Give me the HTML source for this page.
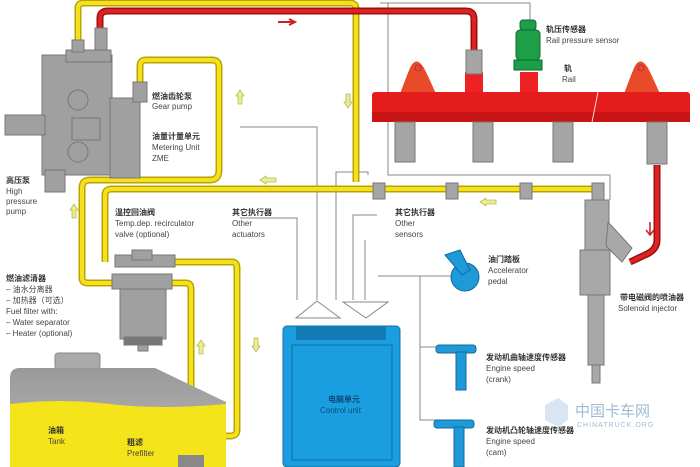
<!DOCTYPE html>
<html><head><meta charset="utf-8"><style>
body{margin:0;background:#fff;width:700px;height:467px;overflow:hidden}
svg{display:block}
text{font-family:"Liberation Sans","Noto Sans CJK SC",sans-serif;font-size:8px;fill:#444}
.cn{font-weight:bold;fill:#333}
</style></head><body>
<svg width="700" height="467" viewBox="0 0 700 467">
<defs>
<linearGradient id="tk" x1="0" y1="0" x2="0" y2="1"><stop offset="0" stop-color="#999"/><stop offset="1" stop-color="#bbb"/></linearGradient>
</defs>
<g stroke="#888" stroke-width="1" fill="none">
<path d="M240 127 H317 V300"/>
<path d="M336 300 V172 H368 V175"/>
<path d="M380 3 H530 V20"/>
<path d="M388 3 V175 H610 V200"/>
<path d="M353 300 V215 H377"/>
<path d="M365 300 V240"/>
<path d="M378 276 H470"/>
<path d="M420 276 V420 H440"/>
<path d="M420 347 H440"/>
<path d="M240 218 H297 V300"/>
</g>
<g fill="none" stroke="#b8a400" stroke-width="7" stroke-linejoin="round">
<path d="M78 42 V8 Q78 3 84 3 H350 Q356 3 356 9 V182"/>
<path d="M140 82 V66 Q140 60 146 60 H212 Q219 60 219 67 V170 Q219 180 210 180 H90 Q82 180 82 188 V278 Q82 283 88 283 H115"/>
<path d="M105 262 V195 Q105 189 112 189 H598"/>
<path d="M175 262 H232 Q237 262 237 268 V430 Q237 436 230 436 H226"/>
<path d="M170 283 H186 Q191 283 191 289 V458"/>
</g>
<g fill="none" stroke="#f5e020" stroke-width="4" stroke-linejoin="round">
<path d="M78 42 V8 Q78 3 84 3 H350 Q356 3 356 9 V182"/>
<path d="M140 82 V66 Q140 60 146 60 H212 Q219 60 219 67 V170 Q219 180 210 180 H90 Q82 180 82 188 V278 Q82 283 88 283 H115"/>
<path d="M105 262 V195 Q105 189 112 189 H598"/>
<path d="M175 262 H232 Q237 262 237 268 V430 Q237 436 230 436 H226"/>
<path d="M170 283 H186 Q191 283 191 289 V458"/>
</g>
<g fill="none" stroke="#9a1010" stroke-width="7" stroke-linejoin="round">
<path d="M100 30 V18 Q100 11 108 11 H466 Q474 11 474 19 V55"/>
<path d="M657 165 V240 Q657 250 645 255 L630 262"/>
</g>
<g fill="none" stroke="#dd2222" stroke-width="4">
<path d="M100 30 V18 Q100 11 108 11 H466 Q474 11 474 19 V55"/>
<path d="M657 165 V240 Q657 250 645 255 L630 262"/>
</g>
<path d="M278 22 H293 M289 19 L295 22 L289 25" stroke="#c22" stroke-width="2" fill="none"/>
<g fill="#a0a0a0" stroke="#777" stroke-width="1">
<rect x="42" y="55" width="70" height="120"/>
<rect x="66" y="50" width="45" height="12"/>
<rect x="110" y="98" width="30" height="80"/>
<rect x="133" y="82" width="14" height="20"/>
<rect x="5" y="115" width="40" height="20"/>
<rect x="72" y="40" width="12" height="12"/>
<rect x="95" y="28" width="12" height="22"/>
<rect x="45" y="170" width="20" height="22"/>
<circle cx="78" cy="100" r="10"/><circle cx="78" cy="152" r="10"/>
<rect x="72" y="118" width="28" height="22"/>
</g>
<path d="M400 94 Q405 80 410 68 Q416 55 424 68 Q430 80 436 94Z" fill="#e84a2a"/>
<path d="M624 94 Q629 80 634 68 Q640 55 648 68 Q654 80 660 94Z" fill="#e84a2a"/>
<circle cx="418" cy="68" r="3" fill="none" stroke="#b33"/>
<circle cx="641" cy="68" r="3" fill="none" stroke="#b33"/>
<rect x="465" y="72" width="18" height="22" fill="#e22"/>
<rect x="520" y="72" width="18" height="22" fill="#e22"/>
<rect x="372" y="92" width="318" height="30" rx="3" fill="#e41c1c"/>
<rect x="372" y="112" width="318" height="10" fill="#c81414"/>
<line x1="598" y1="92" x2="592" y2="122" stroke="#fff" stroke-width="0.8"/>
<g fill="#a5a5a5" stroke="#777">
<rect x="466" y="50" width="16" height="24"/>
<rect x="395" y="122" width="20" height="40"/><rect x="473" y="122" width="20" height="40"/>
<rect x="553" y="122" width="20" height="40"/><rect x="647" y="122" width="20" height="42"/>
<rect x="373" y="183" width="12" height="16"/><rect x="446" y="183" width="12" height="16"/>
<rect x="520" y="183" width="12" height="16"/><rect x="592" y="183" width="12" height="18"/>
</g>
<g fill="#1e9e48" stroke="#0c6a2a">
<rect x="520" y="20" width="16" height="10" rx="3"/>
<rect x="516" y="30" width="24" height="30" rx="4"/>
<rect x="514" y="60" width="28" height="10"/>
</g>
<g fill="#a8a8a8" stroke="#777">
<rect x="585" y="200" width="24" height="50"/>
<path d="M608 222 L632 248 L622 262 L606 246Z"/>
<rect x="580" y="250" width="30" height="45"/>
<rect x="588" y="295" width="16" height="70"/>
<rect x="592" y="365" width="8" height="18"/>
</g>
<g fill="#a0a0a0" stroke="#777">
<rect x="115" y="255" width="60" height="12"/>
<rect x="132" y="250" width="20" height="10"/>
<rect x="112" y="274" width="60" height="15"/>
<rect x="120" y="289" width="46" height="50"/>
<rect x="124" y="337" width="38" height="8" fill="#777"/>
<rect x="138" y="345" width="10" height="6"/>
</g>
<rect x="55" y="353" width="45" height="16" rx="3" fill="#aaa" stroke="#888"/>
<path d="M20 368 H155 L226 402 V467 H10 V378 Q10 368 20 368Z" fill="url(#tk)"/>
<path d="M10 404 Q60 398 110 404 T226 404 V467 H10Z" fill="#f6e41a"/>
<rect x="178" y="455" width="26" height="12" fill="#888"/>
<g fill="#ecec90" stroke="#b8b85a" stroke-width="0.8">
<path d="M236 96 l4 -6 l4 6 h-2 v8 h-4 v-8Z"/>
<path d="M344 102 l4 6 l4 -6 h-2 v-8 h-4 v8Z"/>
<path d="M260 180 l6 -4 v2 h10 v4 h-10 v2Z"/>
<path d="M70 210 l4 -6 l4 6 h-2 v8 h-4 v-8Z"/>
<path d="M197 346 l4 -6 l4 6 h-2 v8 h-4 v-8Z"/>
<path d="M252 346 l4 6 l4 -6 h-2 v-8 h-4 v8Z"/>
<path d="M480 202 l6 -4 v2 h10 v4 h-10 v2Z"/>
</g>
<path d="M650 222 v12 M646 230 l4 5 l4 -5" stroke="#c22" stroke-width="1.5" fill="none"/>
<g fill="#fff" stroke="#888">
<path d="M296 318 L317 301 L340 318Z"/>
<path d="M343 302 H388 L366 318Z"/>
</g>
<rect x="283" y="326" width="117" height="141" rx="4" fill="#1a9ee0" stroke="#1270a8"/>
<rect x="296" y="326" width="90" height="14" fill="#137cb4"/>
<rect x="292" y="345" width="100" height="115" fill="none" stroke="#136ea6"/>
<text x="328" y="402" class="cn" style="fill:#0b4a78">电脑单元</text>
<text x="320" y="413" style="fill:#0b4a78">Control unit</text>
<g fill="#1f9ad8" stroke="#13699c">
<circle cx="465" cy="277" r="14"/>
<path d="M445 255 L460 250 L470 270 L462 275Z"/>
<rect x="436" y="345" width="40" height="8" rx="3"/><rect x="456" y="352" width="10" height="38"/>
<rect x="434" y="420" width="40" height="8" rx="3"/><rect x="454" y="427" width="10" height="40"/>
</g>
<text x="152" y="99" class="cn">燃油齿轮泵</text><text x="152" y="109">Gear  pump</text>
<text x="152" y="139" class="cn">油量计量单元</text><text x="152" y="150">Metering Unit</text><text x="152" y="161">ZME</text>
<text x="6" y="183" class="cn">高压泵</text><text x="6" y="194">High</text><text x="6" y="204">pressure</text><text x="6" y="214">pump</text>
<text x="115" y="215" class="cn">温控回油阀</text><text x="115" y="226">Temp.dep. recirculator</text><text x="115" y="237">valve (optional)</text>
<text x="232" y="215" class="cn">其它执行器</text><text x="232" y="226">Other</text><text x="232" y="237">actuators</text>
<text x="6" y="281" class="cn">燃油滤清器</text><text x="6" y="292">– 油水分离器</text><text x="6" y="303">– 加热器（可选）</text>
<text x="6" y="314">Fuel filter with:</text><text x="6" y="325">– Water separator</text><text x="6" y="336">– Heater (optional)</text>
<text x="48" y="433" class="cn">油箱</text><text x="48" y="444">Tank</text>
<text x="127" y="445" class="cn">粗滤</text><text x="127" y="456">Prefilter</text>
<text x="546" y="32" class="cn">轨压传感器</text><text x="546" y="43">Rail pressure sensor</text>
<text x="564" y="71" class="cn">轨</text><text x="562" y="82">Rail</text>
<text x="395" y="215" class="cn">其它执行器</text><text x="395" y="226">Other</text><text x="395" y="237">sensors</text>
<text x="488" y="262" class="cn">油门踏板</text><text x="488" y="273">Accelerator</text><text x="488" y="284">pedal</text>
<text x="620" y="300" class="cn">带电磁阀的喷油器</text><text x="618" y="311">Solenoid injector</text>
<text x="486" y="360" class="cn">发动机曲轴速度传感器</text><text x="486" y="371">Engine speed</text><text x="486" y="382">(crank)</text>
<text x="486" y="433" class="cn">发动机凸轮轴速度传感器</text><text x="486" y="444">Engine speed</text><text x="486" y="455">(cam)</text>
<path d="M545 405 L558 398 L568 405 V420 L558 427 L545 420Z" fill="#cfe0ee" opacity="0.8"/>
<text x="575" y="416" style="font-size:15px;fill:#9fbad3">中国卡车网</text>
<text x="577" y="427" style="font-size:7px;fill:#9fbad3;letter-spacing:1px">CHINATRUCK.ORG</text>
</svg>
</body></html>
